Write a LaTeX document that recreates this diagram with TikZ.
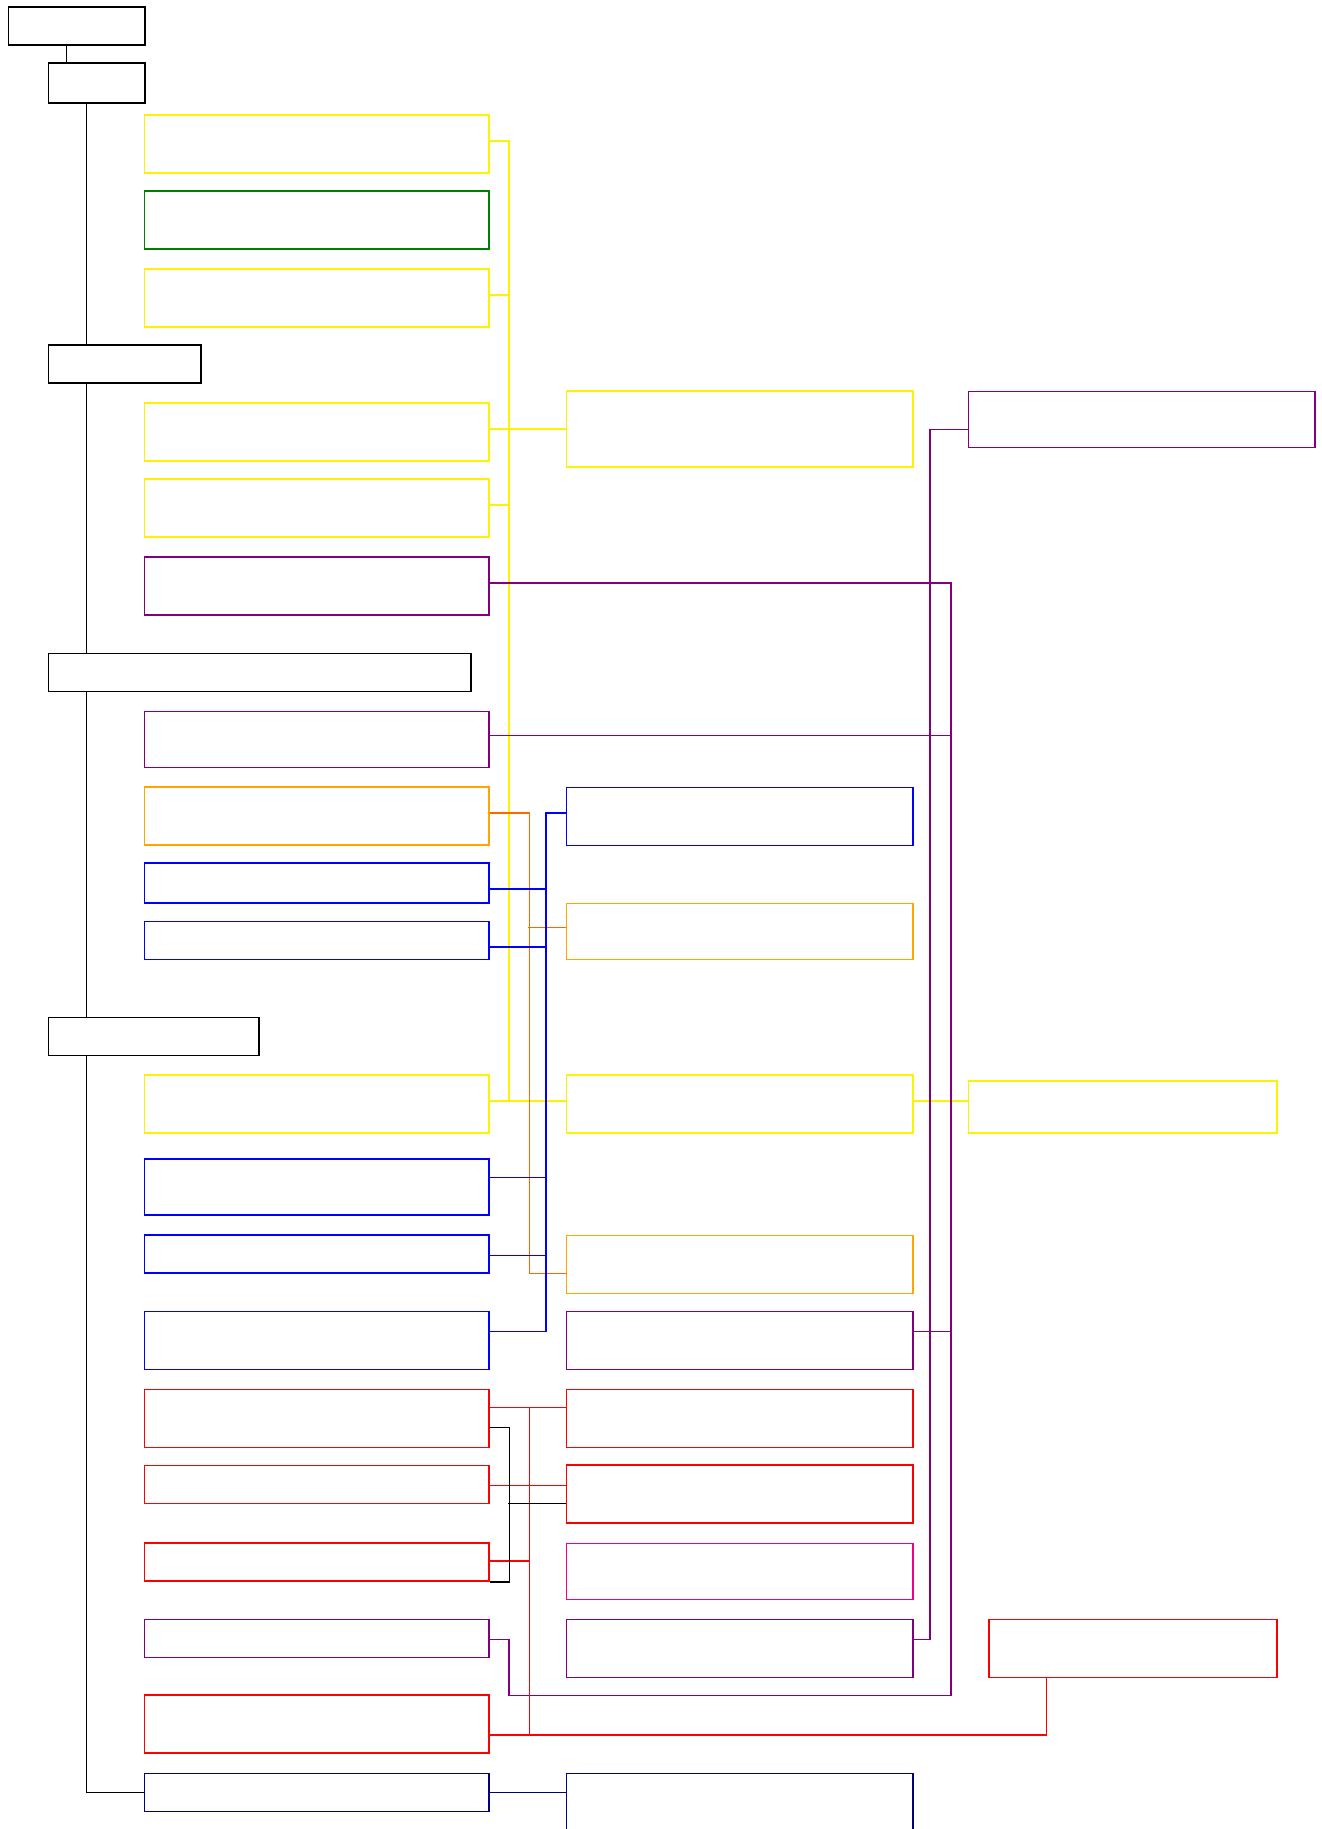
\documentclass[tikz,border=0pt]{standalone}
\usepackage{tikz}
\usetikzlibrary{positioning}

\definecolor{vpurple}{RGB}{128,0,128}
\definecolor{dgreen}{RGB}{0,128,0}
\definecolor{borange}{RGB}{255,165,0}
\definecolor{lorange}{RGB}{255,102,0}
\definecolor{vnavy}{RGB}{0,0,128}

\tikzset{
  box/.style={draw=#1, line width=1.6pt, inner sep=0pt, minimum height=58pt},
  lbox/.style={box=#1, minimum width=344.4pt},
  mbox/.style={box=#1, minimum width=346.4pt},
  low/.style={minimum height=38pt},
  link/.style={draw=#1, line width=1.6pt},
}

\begin{document}
\begin{tikzpicture}[x=1pt, y=-1pt]
  \useasboundingbox (0,0) rectangle (1322,1829);

  % outline column
  \node[box=black, low, minimum width=136.4pt] (k1) at (76.5,26) {};
  \node[box=black, minimum height=40pt, minimum width=96.4pt] (k2) at (96.5,83) {};
  \node[box=black, low, minimum width=152.4pt] (k3) at (124.5,364.2) {};
  \node[box=black, low, minimum width=422.4pt] (k4) at (259.5,672.3) {};
  \node[box=black, low, minimum width=210.4pt] (k5) at (153.5,1036.3) {};

  % left column
  \node[lbox=yellow] (ly1) at (316.5,144.2) {};
  \node[lbox=dgreen] (lg) at (316.5,220.2) {};
  \node[lbox=yellow] (ly2) at (316.5,298) {};
  \node[lbox=yellow] (ly3) at (316.5,432.2) {};
  \node[lbox=yellow] (ly4) at (316.5,508.2) {};
  \node[lbox=vpurple] (lp1) at (316.5,586.2) {};
  \node[lbox=vpurple, minimum height=56pt] (lp2) at (316.5,739.3) {};
  \node[lbox=borange] (lo) at (316.5,816.2) {};
  \node[lbox=blue, minimum height=40pt] (lb1) at (316.5,883.2) {};
  \node[lbox=blue, low] (lb2) at (316.5,940.3) {};
  \node[lbox=yellow] (ly5) at (316.5,1104.2) {};
  \node[lbox=blue, minimum height=56pt] (lb3) at (316.5,1187.2) {};
  \node[lbox=blue, low] (lb4) at (316.5,1254) {};
  \node[lbox=blue] (lb5) at (316.5,1340.3) {};
  \node[lbox=red] (lr1) at (316.5,1418.3) {};
  \node[lbox=red, low] (lr2) at (316.5,1484.5) {};
  \node[lbox=red, low] (lr3) at (316.5,1562.2) {};
  \node[lbox=vpurple, low] (lp3) at (316.5,1638.3) {};
  \node[lbox=red] (lr4) at (316.5,1724.2) {};
  \node[lbox=vnavy, low] (ln) at (316.5,1792.3) {};

  % middle column
  \node[mbox=yellow, minimum height=76pt] (my1) at (739.5,429) {};
  \node[mbox=blue] (mb1) at (739.5,816.3) {};
  \node[mbox=borange, minimum height=56pt] (mo1) at (739.5,931.3) {};
  \node[mbox=yellow] (my2) at (739.5,1104.2) {};
  \node[mbox=borange] (mo2) at (739.5,1264.3) {};
  \node[mbox=vpurple] (mp2) at (739.5,1340.5) {};
  \node[mbox=red] (mr1) at (739.5,1418.3) {};
  \node[mbox=red] (mr2) at (739.5,1494.2) {};
  \node[mbox=magenta, minimum height=56pt] (mm) at (739.5,1571.3) {};
  \node[mbox=vpurple] (mp3) at (739.5,1648.3) {};
  \node[mbox=vnavy, minimum height=76pt] (mn) at (739.5,1811.3) {};

  % right column
  \node[box=vpurple, minimum height=56pt, minimum width=346.2pt] (rp) at (1141.6,419.3) {};
  \node[box=yellow, minimum height=52pt, minimum width=308.5pt] (ry) at (1122.75,1107) {};
  \node[box=red, minimum width=288pt] (rr) at (1132.7,1648.3) {};

  \coordinate (sp) at (86.3,0);
  \coordinate (pcorner) at (950.7,1695.3);
  \coordinate (pbend) at (508.7,1695.3);

  % spine
  \draw[link=black] ([xshift=-10.2pt]k1.south) -- ([xshift=-30.2pt]k2.north);
  \draw[link=black] (sp |- k2.south) -- (sp |- k3.north);
  \draw[link=black] (sp |- k3.south) -- (sp |- k4.north);
  \draw[link=black] (sp |- k4.south) -- (sp |- k5.north);
  \draw[link=black] (sp |- k5.south) |- (ln.west);

  % yellow
  \draw[link=yellow] ([yshift=3.2pt]ly1.east) -- ++(19.6,0) |- ([yshift=3.2pt]ly5.east);
  \draw[link=yellow] ([yshift=3pt]ly2.east) -- ++(19.6,0);
  \draw[link=yellow] (ly3.east |- my1.west) -- (my1.west);
  \draw[link=yellow] ([yshift=3.2pt]ly4.east) -- ++(19.6,0);
  \draw[link=yellow] ([yshift=3.2pt]ly5.east) -- ([yshift=3.2pt]my2.west);
  \draw[link=yellow] ([yshift=3.2pt]my2.east) -- ([yshift=6pt]ry.west);

  % orange
  \draw[link=lorange] ([yshift=3.5pt]lo.east) -- ++(40,0) |- ([yshift=-9pt]mo2.west);
  \draw[link=lorange] ([yshift=4pt]mo1.west) -- ++(-37.6,0);

  % blue
  \draw[link=blue] ([yshift=3.6pt]mb1.west) -- ++(-19.8,0) |- ([yshift=9pt]lb5.east);
  \draw[link=blue] ([yshift=-5.8pt]lb1.east) -- ++(57.8,0);
  \draw[link=blue] ([yshift=-6.7pt]lb2.east) -- ++(57.8,0);
  \draw[link=blue] ([yshift=9.9pt]lb3.east) -- ++(57.8,0);
  \draw[link=blue] ([yshift=-1.3pt]lb4.east) -- ++(57.8,0);

  % purple
  \draw[link=vpurple] ([yshift=-10pt]rp.west) -- ++(-37.8,0) |- ([yshift=9pt]mp3.east);
  \draw[link=vpurple] ([yshift=3.2pt]lp1.east) -| (pcorner) -- (pbend) |- ([yshift=-1pt]lp3.east);
  \draw[link=vpurple] ([yshift=4pt]lp2.east) -- ++(462,0);
  \draw[link=vpurple] ([yshift=9.2pt]mp2.east) -- ++(38,0);

  % red
  \draw[link=red] ([yshift=11pt]lr1.east) -- ([yshift=11pt]mr1.west);
  \draw[link=red] ([yshift=-1pt]lr2.east) -- ([yshift=8.7pt]mr2.west);
  \draw[link=red] ([yshift=11pt]lr1.east) ++(40,0) |- ([yshift=-10.8pt]lr4.east);
  \draw[link=red] ([yshift=1.2pt]lr3.east) -- ++(40,0);
  \draw[link=red] ([yshift=-10.8pt]lr4.east) -| ([xshift=-86.1pt]rr.south);

  % black bracket
  \draw[link=black] ([yshift=-9pt]lr1.east) -- ++(19.8,0) |- (lr3.south east);
  \draw[link=black] ([yshift=-9.1pt]mr2.west) -- ++(-57.8,0);

  % navy
  \draw[link=vnavy] (ln.east) -- (mn.west |- ln.east);
\end{tikzpicture}
\end{document}
